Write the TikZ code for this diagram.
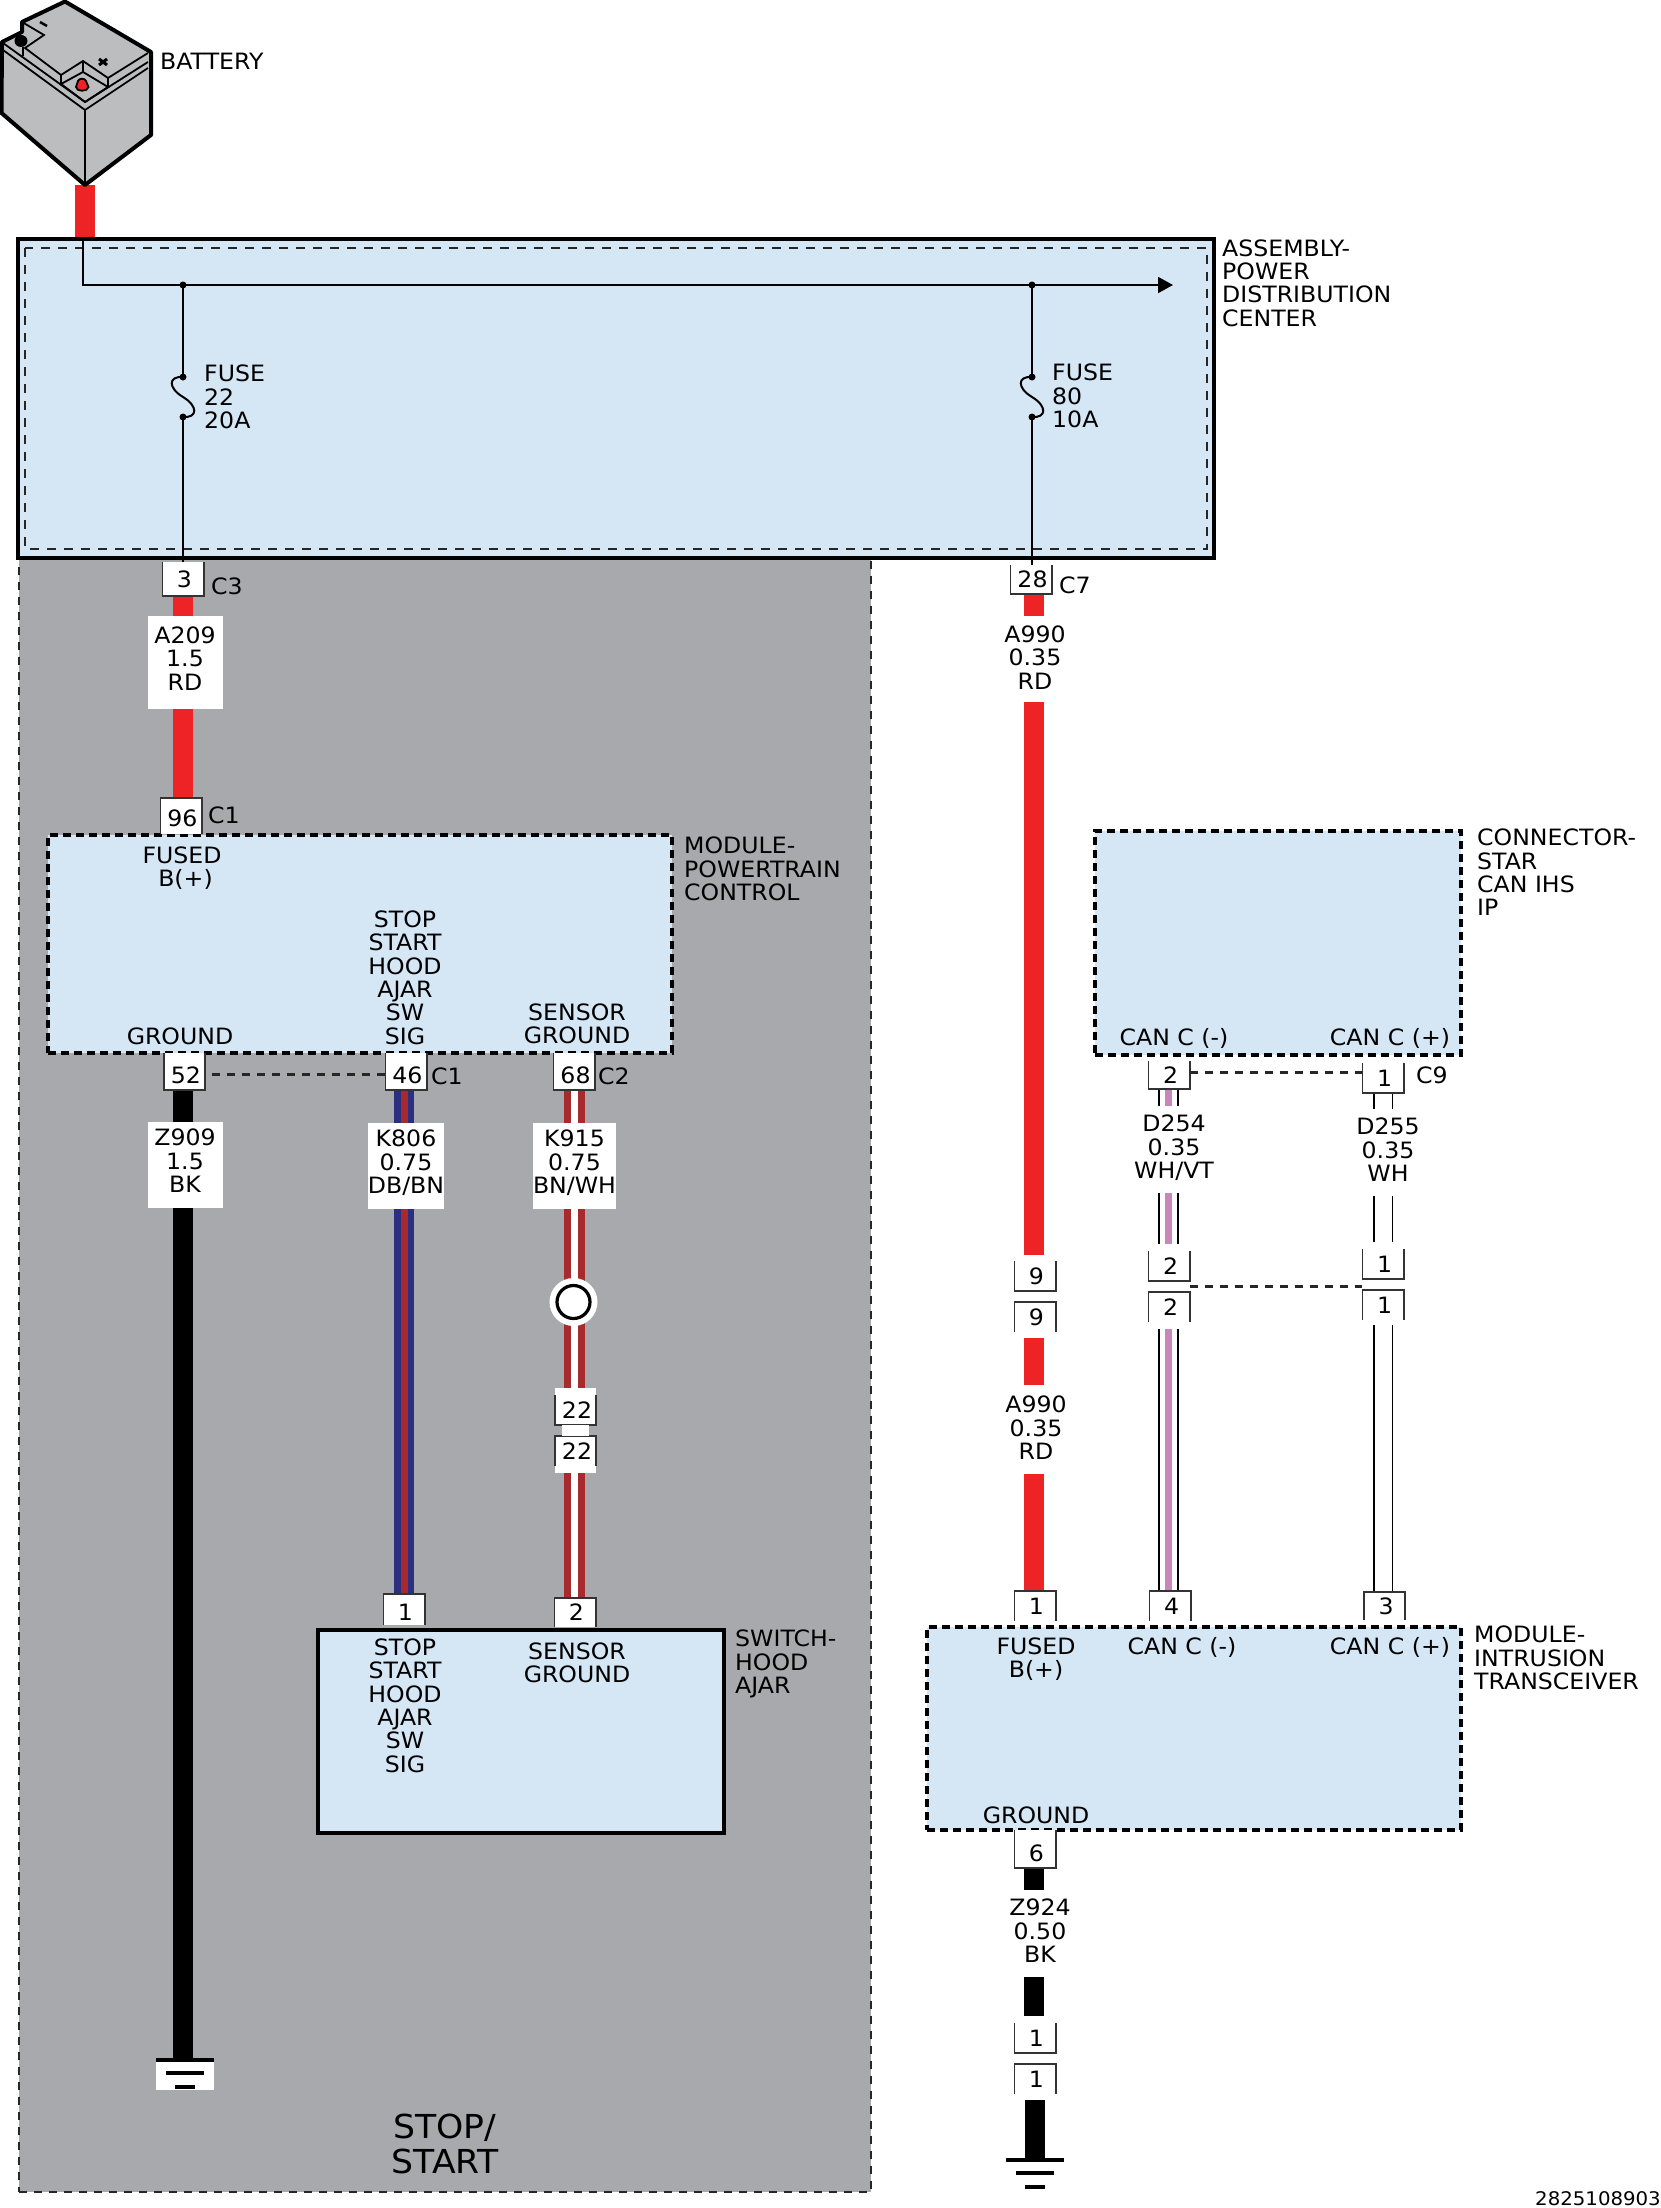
\documentclass[tikz,border=0pt]{standalone}
\usepackage{fontspec}
\setmainfont[FakeStretch=1.05]{DejaVu Sans}
\usetikzlibrary{arrows.meta}
\pgfdeclarelayer{back}
\pgfdeclarelayer{wires}
\pgfsetlayers{back,wires,main}
\definecolor{boxblue}{RGB}{213,230,245}
\definecolor{zonegray}{RGB}{167,169,172}
\definecolor{wirered}{RGB}{238,35,38}
\definecolor{wirebrown}{RGB}{167,43,46}
\definecolor{wireblue}{RGB}{42,47,127}
\definecolor{wireviolet}{RGB}{200,134,187}
\definecolor{battgray}{RGB}{187,189,191}
\tikzset{
  txt/.style={font=\fontsize{22.5}{23.4}\selectfont, align=center, inner sep=0pt},
  title/.style={txt, align=left, anchor=west},
  wirelabel/.style={txt, fill=white, minimum width=75pt, text depth=8pt},
  pinbox/.style={txt, fill=white, minimum width=41pt},
  lowtext/.style={text height=25pt},
  midtext/.style={text height=21pt},
  pinline/.style={draw=black!80, line width=1.6pt},
  plate/.style={fill=white, inner sep=0pt},
  modulebox/.style={fill=boxblue, draw=black, anchor=north west, inner sep=0pt, outer sep=0pt},
  dashbox/.style={modulebox, line width=3.6pt, dash pattern=on 8pt off 5pt},
  linkdash/.style={line width=3pt, draw=black!85, dash pattern=on 8pt off 7pt},
  thinline/.style={line width=2pt},
  wireRD/.style={draw=wirered, line width=20pt},
  wireBK/.style={draw=black, line width=20pt},
  wireDB/.style={draw=wireblue, line width=6.5pt, double=wirebrown, double distance=7pt},
  wireBN/.style={draw=wirebrown, line width=7pt, double=white, double distance=7pt},
  wireWH/.style={draw=black, line width=1.8pt, double=white, double distance=17pt},
  wireVT/.style={wireWH, postaction={draw=wireviolet, line width=7pt, double=none}},
  gndbar/.style={line width=4pt},
  batt/.style={line width=1.8pt},
}
% pin with open top, pin with open bottom
\newcommand{\pinU}[5][minimum height=30pt]{
  \node[pinbox, #1] (#2) at (#3,#4) {\hspace*{3pt}#5};
  \draw[pinline] (#2.north west) -- (#2.south west) -- (#2.south east) -- (#2.north east);
}
\newcommand{\pinD}[5][minimum height=30pt]{
  \node[pinbox, #1] (#2) at (#3,#4) {\hspace*{3pt}#5};
  \draw[pinline] (#2.south west) -- (#2.north west) -- (#2.north east) -- (#2.south east);
}
\newcommand{\gndsym}[1]{
  \draw[gndbar] ([xshift=-29pt]#1) -- ([xshift=29pt]#1);
  \draw[gndbar] ([xshift=-19pt,yshift=-13pt]#1) -- ([xshift=19pt,yshift=-13pt]#1);
  \draw[gndbar] ([xshift=-10pt,yshift=-27pt]#1) -- ([xshift=10pt,yshift=-27pt]#1);
}
\newcommand{\fuse}[2]{
  \coordinate (#1a) at (#2,377);
  \coordinate (#1b) at (#2,417);
  \draw[thinline] (#1a) .. controls +(-15,-1) and +(-15,-9) .. ++(0,20)
    .. controls +(15,9) and +(15,1) .. (#1b);
  \fill (#1a) circle [radius=3.5]; \fill (#1b) circle [radius=3.5];
}
\begin{document}
\begin{tikzpicture}[x=1pt, y=-1pt]
  \useasboundingbox (0,0) rectangle (1661,2208);

  % battery
  \filldraw[fill=battgray, line width=4pt, line join=round] (65,1.5) -- (151,52) -- (151,135) -- (85,185)
     -- (1.5,113) -- (2,42) -- (22,32) -- (22,22) -- cycle;
  \draw[batt] (85,110) -- (85,185);
  \draw[batt] (3,50) -- (85,110) -- (148,68);
  \draw[batt] (3,43) -- (85,102) -- (148,62);
  \draw[batt] (22,22) -- (44,35) -- (25,48) -- (61,75) -- (83,61) -- (108,78) -- (148,53);
  \draw[batt] (61,75) -- (61,84) -- (83,72) -- (108,87) -- (85,102);
  \draw[batt] (83,61) -- (83,72) (108,78) -- (108,87) (61,84) -- (85,102);
  \draw[batt] (23,47) -- (23,56);
  \fill (21,41) ellipse [x radius=6.5, y radius=6];
  \filldraw[fill=wirered, line width=1.8pt] (76,87) -- (78,81) .. controls (79,78) and (85,78) .. (86,81)
     -- (88.5,87) .. controls (88,92) and (76,92) .. cycle;
  \draw[line width=2.5pt] (40,22) -- (47,26);
  \draw[line width=3pt] (99,59) -- (107,65) (107,59) -- (99,65);
  \coordinate (battpost) at (85,185);
  \node[title] (battery) at (160,61) {BATTERY};

  % areas
  \begin{pgfonlayer}{back}
    \node[fill=zonegray, draw=black!85, line width=2pt, dash pattern=on 8pt off 7pt, anchor=north west, inner sep=0pt, outer sep=0pt,
      minimum width=852pt, minimum height=1633pt] (zone) at (19,559) {};
    \node[modulebox, line width=4pt, minimum width=1196pt, minimum height=319pt] (pdc) at (18,239) {};
    \draw[line width=2pt, black!85, dash pattern=on 9pt off 8pt] ([shift={(7,9)}]pdc.north west) rectangle ([shift={(-7,-9)}]pdc.south east);
    \node[dashbox, minimum width=624pt, minimum height=218pt] (pcm) at (48,835) {};
    \node[dashbox, minimum width=366pt, minimum height=224pt] (star) at (1095,831) {};
    \node[modulebox, line width=3.2pt, minimum width=406pt, minimum height=203pt] (ajar) at (318,1630) {};
    \node[dashbox, minimum width=534pt, minimum height=203pt] (itm) at (927,1627) {};
  \end{pgfonlayer}

  % pins, left part
  \pinU[minimum height=34pt]{p3}{183}{579}{3}
  \pinD[minimum height=36pt, midtext]{p96}{181}{816}{96}
  \pinU[minimum height=37pt, lowtext]{p52}{184.5}{1071.5}{52}
  \pinU[minimum height=37pt, lowtext]{p46}{406}{1071.5}{46}
  \pinU[minimum height=37pt, lowtext]{p68}{574}{1071.5}{68}
  \pinD[minimum height=31pt, midtext]{pk1}{404}{1609.5}{1}
  \pinD[minimum height=29pt]{pk2}{575}{1612.5}{2}
  \pinU{p22a}{575.5}{1410}{22}
  \pinD{p22b}{575.5}{1451}{22}
  \draw[linkdash, shorten <=7pt] ([yshift=-3pt]p52.east) -- ([yshift=-3pt]p46.west);

  % pins, right part
  \pinU[minimum height=29pt]{p28}{1031}{579.5}{28}
  \pinU{p9a}{1035}{1276}{9}
  \pinD{p9b}{1035}{1317}{9}
  \pinD{pfb}{1035}{1606}{1}
  \pinU[minimum height=38pt, lowtext]{p6}{1035}{1849}{6}
  \pinU{p1a}{1035}{2038}{1}
  \pinD{p1b}{1035}{2079}{1}
  \pinU[minimum height=28pt]{c2a}{1169}{1075}{2}
  \pinU{c1a}{1383}{1078}{1}
  \pinU{c2b}{1169}{1266}{2}
  \pinU{c1b}{1383}{1264}{1}
  \pinD{c2c}{1169}{1307}{2}
  \pinD{c1c}{1383}{1305}{1}
  \pinD{c4}{1170}{1606}{4}
  \pinD[minimum height=28pt]{c3}{1384.5}{1606}{3}
  \draw[linkdash] ([yshift=3pt]c2a.east) -- ([yshift=3pt]c2a.east -| c1a.west);
  \draw[linkdash] (c2b.south east) ++(0,5) -- ++(172,0);

  % pin names
  \node[title] (c3name) at (211,586) {C3};
  \node[title] (c1name) at (208,815) {C1};
  \node[title] (c1nameb) at (431,1076) {C1};
  \node[title] (c2name) at (598,1076) {C2};
  \node[title] (c7name) at (1059,585) {C7};
  \node[title] (c9name) at (1416,1075) {C9};

  % wires
  \coordinate (gndl) at (182.5,2060);
  \coordinate (gndr) at (1035,2160);
  \coordinate (rd) at (1033.5,0);
  \coordinate (bk) at (1034,0);
  \coordinate (vt) at (1168.5,0);
  \coordinate (wh) at (1383,0);
  \begin{pgfonlayer}{wires}
    \draw[wireRD, shorten >=2pt] (battpost) -- (battpost |- pdc.north);
    \draw[wireRD] (p3.south) -- (p3.south |- p96.north);
    \draw[wireBK] (gndl |- p52.south) -- (gndl);
    \draw[wireDB] (pk1 |- p46.south) -- (pk1.north);
    \draw[wireBN] (p68.south) -- (p68.south |- pk2.north);
    \draw[wireRD] (rd |- p28.south) -- ([shift={(-1.5,-6)}]p9a.north);
    \draw[wireRD] ([shift={(-1.5,6)}]p9b.south) -- (rd |- pfb.north);
    \draw[wireBK] (bk |- p6.south) -- ([shift={(-1,-7)}]p1a.north);
    \draw[wireBK] (gndr |- p1b.south) ++(0,6) -- (gndr);
    \draw[wireVT] (vt |- c2a.south) -- ([shift={(-.5,-7)}]c2b.north);
    \draw[wireVT] ([shift={(-.5,7)}]c2c.south) -- (vt |- c4.north);
    \draw[wireWH] (wh |- c1a.south) -- ([shift={(0,-7)}]c1b.north);
    \draw[wireWH] ([shift={(0,5)}]c1c.south) -- (wh |- c3.north);
    % bus in the distribution center
    \coordinate (busin) at (83,240);
    \coordinate (busend) at (1173,285);
    \coordinate (j22) at (183,285);
    \coordinate (j80) at (1032,285);
    \draw[thinline, -{Triangle[length=15pt,width=16pt]}] (busin) |- (busend);
    \fuse{f22}{183}
    \fuse{f80}{1032}
    \fill (j22) circle [radius=3.5]; \fill (j80) circle [radius=3.5];
    \draw[thinline] (j22) -- (f22a) (f22b) -- (p3.north);
    \draw[thinline] (j80) -- (f80a) (f80b) -- (j80 |- p28.north);
  \end{pgfonlayer}

  % wire labels
  \node[wirelabel, minimum height=93pt] (a209) at (185,662.5) {A209\\1.5\\RD};
  \node[wirelabel, minimum height=86pt] (z909) at (185,1165) {Z909\\1.5\\BK};
  \node[wirelabel, minimum height=86pt] (k806) at (406,1166) {K806\\0.75\\DB/BN};
  \node[wirelabel, minimum height=86pt] (k915) at (574.5,1166) {K915\\0.75\\BN/WH};
  \node[wirelabel, minimum height=86pt, text depth=3pt] (a990a) at (1035,659) {A990\\0.35\\RD};
  \node[wirelabel, minimum height=89pt, text depth=3pt] (a990b) at (1036,1429.5) {A990\\0.35\\RD};
  \node[wirelabel, minimum height=87pt, text depth=5pt] (z924) at (1040,1933.5) {Z924\\0.50\\BK};
  \node[wirelabel, minimum height=87pt, minimum width=90pt, text depth=5pt] (d254) at (1174,1149.5) {D254\\0.35\\WH/VT};
  \node[wirelabel, minimum height=87pt, text depth=5pt] (d255) at (1388,1152.5) {D255\\0.35\\WH};

  % splice and the white gaps of pin 22
  \node[plate, circle, minimum size=48pt] (splice) at (573.5,1302) {};
  \node[circle, draw, line width=3.2pt, minimum size=33pt, inner sep=0pt] (splicering) at (splice) {};
  \node[plate, minimum width=27pt, minimum height=11pt] (gap22) at (575.5,1430.5) {};
  \node[plate, minimum width=41pt, minimum height=7pt] (top22) at (575.5,1391.5) {};
  \node[plate, minimum width=41pt, minimum height=7pt] (bot22) at (575.5,1469.5) {};

  % ground symbols
  \node[plate, minimum width=58pt, minimum height=31pt] (gndplate) at (185,2074) {};
  \coordinate (gndla) at (185,2060);
  \gndsym{gndla}
  \gndsym{gndr}

  % distribution center texts
  \node[title] (pdcname) at (1222,283) {ASSEMBLY-\\POWER\\DISTRIBUTION\\CENTER};
  \node[title] (f22name) at (204,397) {FUSE\\22\\20A};
  \node[title] (f80name) at (1052,396) {FUSE\\80\\10A};

  % powertrain module
  \node[title] (pcmname) at (684,869) {MODULE-\\POWERTRAIN\\CONTROL};
  \node[txt] (pcmb) at (182,868) {FUSED\\\hspace{7pt}B(+)};
  \node[txt] (pcmstop) at (405,977.5) {STOP\\START\\HOOD\\AJAR\\SW\\SIG};
  \node[txt] (pcmgnd) at (180,1036) {GROUND};
  \node[txt] (pcmsens) at (577,1023.5) {SENSOR\\GROUND};

  % switch
  \node[title] (ajarname) at (735,1664) {SWITCH-\\HOOD\\AJAR};
  \node[txt] (ajarstop) at (405,1705.5) {STOP\\START\\HOOD\\AJAR\\SW\\SIG};
  \node[txt] (ajarsens) at (577,1662.5) {SENSOR\\GROUND};

  % star connector
  \node[title] (starname) at (1477,872.5) {CONNECTOR-\\STAR\\CAN IHS\\IP};
  \node[txt] (starm) at (1174,1038) {CAN C (-)};
  \node[txt] (starp) at (1390,1038) {CAN C (+)};

  % intrusion transceiver
  \node[title] (itmname) at (1474,1658) {MODULE-\\INTRUSION\\TRANSCEIVER};
  \node[txt] (itmb) at (1036,1659) {FUSED\\B(+)};
  \node[txt] (itmm) at (1182,1647) {CAN C (-)};
  \node[txt] (itmp) at (1390,1647) {CAN C (+)};
  \node[txt] (itmg) at (1036,1815) {GROUND};

  \node[txt, font=\fontsize{33}{35}\selectfont] (stopstart) at (445,2144) {STOP/\\START};
  \node[txt, font=\fontsize{18.8}{21}\selectfont, anchor=east] (partno) at (1661,2199) {2825108903};
\end{tikzpicture}
\end{document}
